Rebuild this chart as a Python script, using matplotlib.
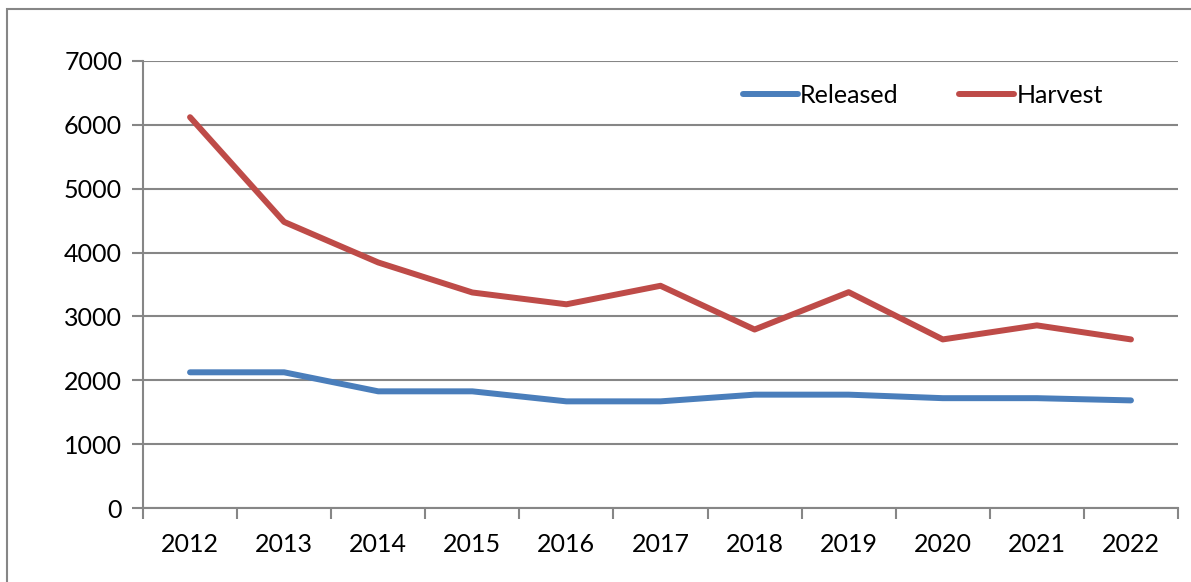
import numpy as np
import matplotlib.pyplot as plt
from matplotlib.patches import Rectangle

# Data
years = ['2012', '2013', '2014', '2015', '2016', '2017',
         '2018', '2019', '2020', '2021', '2022']
released = [2125, 2125, 1827, 1827, 1670, 1670, 1775, 1775, 1720, 1720, 1685]
harvest = [6120, 4480, 3845, 3375, 3190, 3480, 2795, 3380, 2640, 2860, 2640]

plt.rcParams['font.family'] = ['Lato', 'DejaVu Sans']

fig = plt.figure(figsize=(11.91, 5.82), dpi=100)
ax = fig.add_axes([143 / 1191, 1 - 508 / 582, (1178 - 143) / 1191, (508 - 61) / 582])

# outer chart border
fig.patches.append(Rectangle((7 / 1191, -0.05), 1.2, 1 - 9 / 582 + 0.05,
                             transform=fig.transFigure, fill=False,
                             edgecolor='#868686', linewidth=1.5))

x = np.arange(len(years))
ax.plot(x, released, color='#4A7EBB', linewidth=4.3, solid_capstyle='round',
        solid_joinstyle='round', label='Released')
ax.plot(x, harvest, color='#BE4B48', linewidth=4.3, solid_capstyle='round',
        solid_joinstyle='round', label='Harvest')

ax.set_xlim(-0.5, len(years) - 0.5)
ax.set_ylim(0, 7000)
ax.set_yticks(np.arange(0, 7001, 1000))
ax.yaxis.grid(True, color='#868686', linewidth=1.5)
ax.set_axisbelow(True)

# category axis: ticks between categories, labels at centers
ax.set_xticks(np.arange(-0.5, len(years), 1.0))
ax.set_xticklabels([])
ax.set_xticks(x, minor=True)
ax.set_xticklabels(years, minor=True)
ax.tick_params(axis='x', which='major', length=8, width=1.5, color='#868686')
ax.tick_params(axis='x', which='minor', length=0, pad=18, labelsize=18)
ax.tick_params(axis='y', length=8, width=1.5, color='#868686', labelsize=18, pad=7)

for side in ['top', 'right']:
    ax.spines[side].set_visible(False)
for side in ['left', 'bottom']:
    ax.spines[side].set_color('#868686')
    ax.spines[side].set_linewidth(1.5)

ax.legend(loc='upper right', bbox_to_anchor=(0.949, 0.999), ncol=2, frameon=False,
          fontsize=18, handlelength=2.2, handletextpad=0.1, columnspacing=2.4)

plt.savefig('out.png', dpi=100)
